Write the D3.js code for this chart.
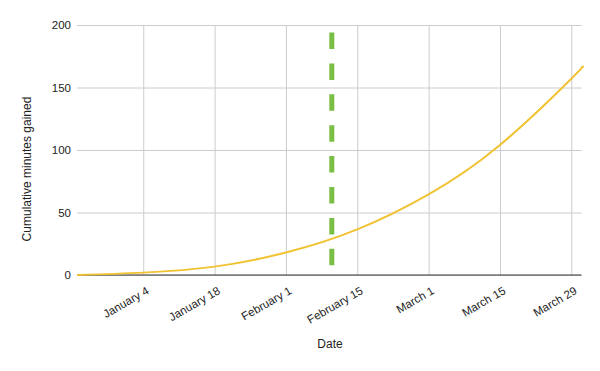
<!DOCTYPE html>
<html>
<head>
<meta charset="utf-8">
<script src="https://cdn.jsdelivr.net/npm/d3@7"></script>
<style>
  body { margin: 0; background: #fff; }
  svg text { font-family: "Liberation Sans", Arial, sans-serif; fill: #222; }
</style>
</head>
<body>
<div id="chart"></div>
<script>
'use strict';

// curve read at the gridline dates (minutes of daylight gained since Dec 22)
var dates = ['2022-12-22', '2023-01-04', '2023-01-18', '2023-02-01', '2023-02-15',
  '2023-03-01', '2023-03-15', '2023-03-29', '2023-03-31'];
var minutes = [0, 1.9, 6.7, 18, 36.5, 64.5, 104, 157, 166];

var tickDates = ['2023-01-04', '2023-01-18', '2023-02-01', '2023-02-15', '2023-03-01', '2023-03-15', '2023-03-29'];
var tickLabels = ['January 4', 'January 18', 'February 1', 'February 15', 'March 1', 'March 15', 'March 29'];
var yTicks = [0, 50, 100, 150, 200];

var markerDate = '2023-02-10';
var markerRange = [6.5, 194];

var parse = d3.utcParse('%Y-%m-%d');
var width = 600, height = 371;
var margin = {top: 25, right: 18.5, bottom: 96, left: 77};
var w = width - margin.left - margin.right;
var h = height - margin.top - margin.bottom;

var data = dates.map(function(d, i){ return {date: parse(d), value: minutes[i]}; });

var x = d3.scaleUtc()
  .domain([parse('2022-12-22'), parse('2023-03-31')])
  .range([0, w]);
var y = d3.scaleLinear().domain([0, 200]).range([h, 0]);

var svg = d3.select('#chart').append('svg')
  .attr('width', width)
  .attr('height', height)
  .append('g')
    .attr('transform', 'translate(' + margin.left + ',' + margin.top + ')');

// horizontal grid
svg.append('g')
  .call(d3.axisLeft(y).tickValues(yTicks).tickSize(-w).tickPadding(6))
  .call(function(g){
    g.select('.domain').remove();
    g.selectAll('.tick line').attr('stroke', '#cccccc');
    g.selectAll('.tick text').attr('font-size', 11.5).attr('fill', '#222');
  });

// vertical grid + rotated labels
var xAxis = svg.append('g')
  .attr('transform', 'translate(0,' + h + ')')
  .call(d3.axisBottom(x)
    .tickValues(tickDates.map(parse))
    .tickSize(-h)
    .tickFormat(function(d, i){ return tickLabels[i]; }));
xAxis.select('.domain').remove();
xAxis.selectAll('.tick line').attr('stroke', '#cccccc');
xAxis.selectAll('.tick text')
  .attr('font-size', 11.5)
  .attr('fill', '#222')
  .attr('text-anchor', 'end')
  .attr('dy', 0)
  .attr('y', 0)
  .attr('transform', 'translate(6,18) rotate(-30)');

// baseline
svg.append('line')
  .attr('x1', 0).attr('x2', w)
  .attr('y1', y(0)).attr('y2', y(0))
  .attr('stroke', '#333')
  .attr('stroke-width', 1);

// marker
svg.append('line')
  .attr('x1', x(parse(markerDate))).attr('x2', x(parse(markerDate)))
  .attr('y1', y(markerRange[1])).attr('y2', y(markerRange[0]))
  .attr('stroke', '#7abf45')
  .attr('stroke-width', 5)
  .attr('stroke-dasharray', '16.5,14.4');

var line = d3.line()
  .x(function(d){ return x(d.date); })
  .y(function(d){ return y(d.value); })
  .curve(d3.curveNatural);

svg.append('path')
  .datum(data)
  .attr('fill', 'none')
  .attr('stroke', '#f1c232')
  .attr('stroke-width', 2)
  .attr('d', line);

// titles
svg.append('text')
  .attr('transform', 'translate(' + (27 - margin.left) + ',' + (169 - margin.top) + ') rotate(-90)')
  .attr('text-anchor', 'middle')
  .attr('dy', '0.35em')
  .attr('font-size', 12)
  .text('Cumulative minutes gained');

svg.append('text')
  .attr('x', 330 - margin.left)
  .attr('y', 348 - margin.top)
  .attr('text-anchor', 'middle')
  .attr('font-size', 12)
  .text('Date');
</script>
</body>
</html>
